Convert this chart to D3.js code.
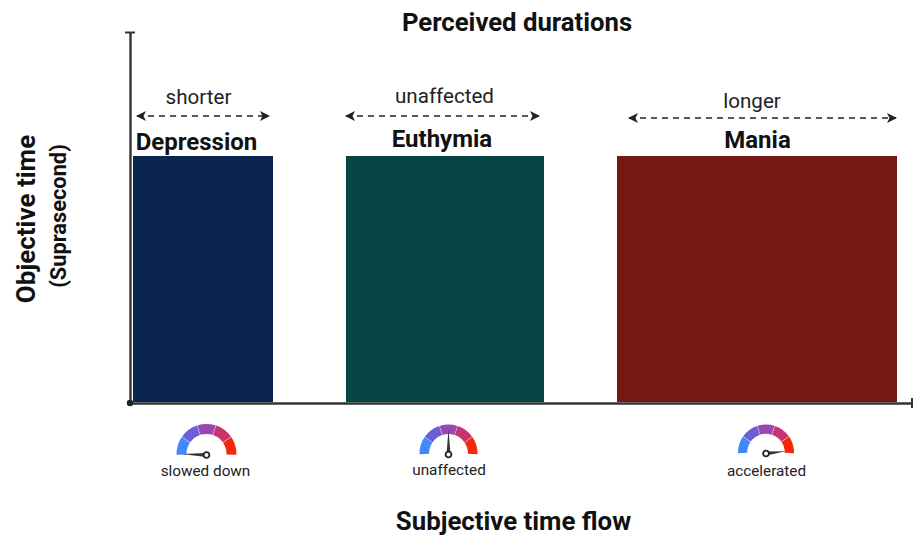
<!DOCTYPE html>
<html><head><meta charset="utf-8">
<script src="https://cdn.jsdelivr.net/npm/d3@7"></script>
<style>html,body{margin:0;padding:0;background:#fff}svg{display:block}text{font-family:Roboto,sans-serif;fill:#111}</style>
</head><body><svg id="c" width="917" height="535"></svg>
<script>
const title = "Perceived durations";
const xTitle = "Subjective time flow";
const categories = ["Depression", "Euthymia", "Mania"];
const perceived = ["shorter", "unaffected", "longer"];
const gaugeLabels = ["slowed down", "unaffected", "accelerated"];
const barStart = [3, 216, 487];
const barWidth = [140, 198, 280];
const barHeight = [247, 247, 247];
const needleValue = [-2.0, 0, 1.9]; // needle tilt, in gauge segments from centre
const gaugeColors = ["#4287fb", "#6a5fd6", "#9a47b4", "#c9346f", "#f6280c"];

const W = 917, H = 535;
const svg = d3.select("#c");
const x = d3.scaleLinear().domain([0, 782]).range([130, 912]);
const y = d3.scaleLinear().domain([0, 371]).range([403, 32]);
const dark = "#333";

const defs = svg.append("defs");
defs.append("marker").attr("id","ah").attr("viewBox","0 0 10 10").attr("refX",9).attr("refY",5)
  .attr("markerUnits","userSpaceOnUse").attr("markerWidth",10).attr("markerHeight",10).attr("orient","auto-start-reverse")
  .append("path").attr("d","M0,0L10,5L0,10L2.5,5Z").attr("fill","#222");

const colors = ["#0b2551", "#054543", "#731812"];
svg.selectAll("rect.bar").data(categories).join("rect").attr("class","bar")
  .attr("x",(d,i)=>x(barStart[i])).attr("width",(d,i)=>x(barWidth[i])-x(0))
  .attr("y",(d,i)=>y(barHeight[i])).attr("height",(d,i)=>y(0)-y(barHeight[i])-1)
  .attr("fill",(d,i)=>colors[i]);

svg.append("g").attr("transform","translate(0,403)").call(d3.axisBottom(x).tickValues([]).tickSize(0))
  .select(".domain").attr("stroke",dark).attr("stroke-width",2.4);
svg.append("g").attr("transform","translate(130,0)").call(d3.axisLeft(y).tickValues([]).tickSize(0))
  .select(".domain").attr("stroke",dark).attr("stroke-width",2.4);
svg.append("line").attr("x1",125).attr("x2",135).attr("y1",32.5).attr("y2",32.5).attr("stroke",dark).attr("stroke-width",2);
svg.append("line").attr("x1",912).attr("x2",912).attr("y1",398).attr("y2",408).attr("stroke",dark).attr("stroke-width",2);
svg.append("circle").attr("cx",130).attr("cy",403).attr("r",3.2).attr("fill","#222");

svg.append("text").attr("x",517).attr("y",31).attr("text-anchor","middle").attr("font-size",25.7).attr("font-weight",700).text(title);
svg.append("text").attr("x",513.5).attr("y",530).attr("text-anchor","middle").attr("font-size",25.8).attr("font-weight",700).text(xTitle);
svg.append("text").attr("transform","translate(35,219) rotate(-90)").attr("text-anchor","middle").attr("font-size",26).attr("font-weight",700).text("Objective time");
svg.append("text").attr("transform","translate(66,216) rotate(-90)").attr("text-anchor","middle").attr("font-size",21.8).attr("font-weight",700).text("(Suprasecond)");

const catX = [196.5, 442, 757.5], catY = [150, 147, 148];
const arrX = [[137,269],[346,539],[629,896]], arrY = [116,116,118];
const perX = [198.5,444.5,752], perY = [104,103,108];
svg.selectAll("text.cat").data(categories).join("text").attr("class","cat")
  .attr("x",(d,i)=>catX[i]).attr("y",(d,i)=>catY[i]).attr("text-anchor","middle")
  .attr("font-size",24).attr("font-weight",700).text(d=>d);
svg.selectAll("text.per").data(perceived).join("text").attr("class","per")
  .attr("x",(d,i)=>perX[i]).attr("y",(d,i)=>perY[i]).attr("text-anchor","middle")
  .attr("font-size",20.6).style("fill","#222").text(d=>d);
svg.selectAll("line.arr").data(perceived).join("line").attr("class","arr")
  .attr("x1",(d,i)=>arrX[i][0]).attr("x2",(d,i)=>arrX[i][1]).attr("y1",(d,i)=>arrY[i]).attr("y2",(d,i)=>arrY[i])
  .attr("stroke","#222").attr("stroke-width",1.6).attr("stroke-dasharray","6 5")
  .attr("marker-start","url(#ah)").attr("marker-end","url(#ah)");

const gx = [206.5, 448.5, 766], gy = [454, 453.5, 452.5], gr = [30, 29, 28];
const pie = d3.pie().value(1).sort(null).startAngle(-Math.PI/2-0.03).endAngle(Math.PI/2+0.03).padAngle(0.012);
gaugeLabels.forEach((lab,k)=>{
  const g = svg.append("g").attr("transform",`translate(${gx[k]},${gy[k]})`);
  const arc = d3.arc().innerRadius(gr[k]*0.67).outerRadius(gr[k]);
  g.selectAll("path.s").data(pie(gaugeColors)).join("path").attr("class","s").attr("d",arc).attr("fill",d=>d.data);
  const a = needleValue[k]*Math.PI/5*1.22;
  const len = k===2?20:25;
  const tx = Math.sin(a)*len, ty = -Math.cos(a)*len;
  const px = -ty/len, py = tx/len;
  const n = g.append("g").attr("transform",`translate(0,1)`);
  n.append("path").attr("d",`M${tx},${ty}L${px*2},${py*2}L${-px*2},${-py*2}Z`).attr("fill","#333");
  n.append("circle").attr("r",2.9).attr("fill","#fff").attr("stroke","#222").attr("stroke-width",1.8);
  svg.append("text").attr("x",[205.5,449,766.5][k]).attr("y",[476,475,476][k]).attr("text-anchor","middle").attr("font-size",15.3).style("fill","#222").text(lab);
});
</script></body></html>
